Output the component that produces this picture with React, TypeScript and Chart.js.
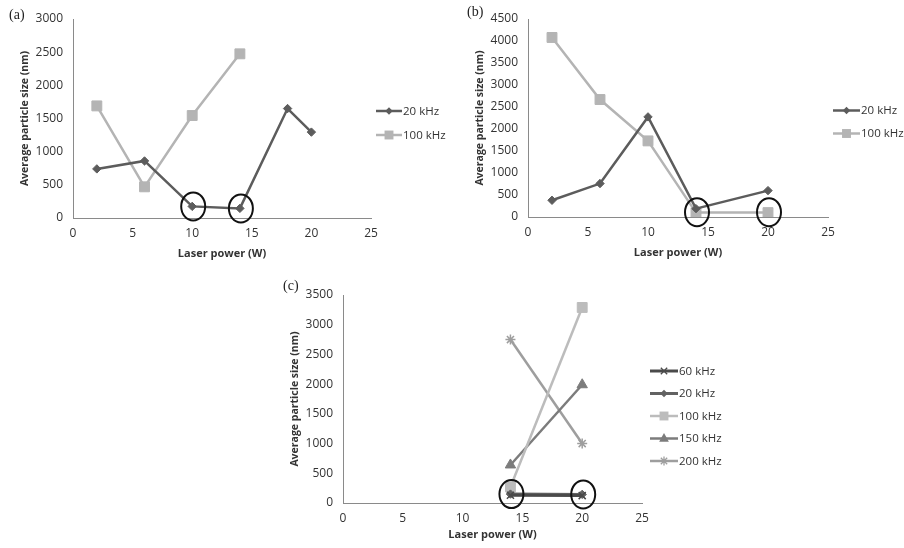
import React, { useEffect, useRef } from "react";
import { Chart, registerables } from "chart.js";

Chart.register(...registerables);

// ---------- data ----------
const powerA20 = [2, 6, 10, 14, 18, 20];
const sizeA20 = [740, 860, 175, 145, 1650, 1295];
const powerA100 = [2, 6, 10, 14];
const sizeA100 = [1690, 470, 1545, 2475];
const circledA = [[10, 175], [14, 145]];

const powerB = [2, 6, 10, 14, 20];
const sizeB20 = [380, 760, 2275, 190, 600];
const sizeB100 = [4080, 2670, 1730, 100, 100];
const circledB = [[14, 110], [20, 110]];

const powerC = [14, 20];
const sizeC60 = [130, 125];
const sizeC20 = [150, 145];
const sizeC100 = [270, 3290];
const sizeC150 = [640, 1990];
const sizeC200 = [2750, 1000];
const circledC = [[14, 150], [20, 145]];

const xTicks = [0, 5, 10, 15, 20, 25];
const xTitle = "Laser power (W)";
const yTitle = "Average particle size (nm)";

const FONT = "'Open Sans', 'Liberation Sans', sans-serif";
const TEXT = "#333333";
const DARK = "#5c5c5c";
const LIGHT = "#b4b4b4";

const pts = (xs: number[], ys: number[]) => xs.map((x, i) => ({ x, y: ys[i] }));

const ds = (label: string, data: any[], color: string, style: string, r: number, w = 2.5) => ({
  label,
  data,
  borderColor: color,
  backgroundColor: color,
  pointBackgroundColor: color,
  pointBorderColor: color,
  pointStyle: style,
  pointRadius: r,
  pointBorderWidth: style === "crossRot" || style === "star" ? 1.5 : 1,
  borderWidth: w,
  tension: 0,
  fill: false,
});

function marker(ctx: CanvasRenderingContext2D, style: string, x: number, y: number, r: number, color: string) {
  ctx.save();
  ctx.fillStyle = color;
  ctx.strokeStyle = color;
  ctx.lineWidth = 1.3;
  ctx.beginPath();
  if (style === "rect") {
    const s = r * Math.SQRT1_2;
    ctx.rect(x - s, y - s, 2 * s, 2 * s);
    ctx.fill();
  } else if (style === "rectRot") {
    ctx.moveTo(x, y - r);
    ctx.lineTo(x + r, y);
    ctx.lineTo(x, y + r);
    ctx.lineTo(x - r, y);
    ctx.closePath();
    ctx.fill();
  } else if (style === "triangle") {
    ctx.moveTo(x, y - r);
    ctx.lineTo(x + r * 0.9, y + r * 0.6);
    ctx.lineTo(x - r * 0.9, y + r * 0.6);
    ctx.closePath();
    ctx.fill();
  } else if (style === "crossRot") {
    const s = r * Math.SQRT1_2;
    ctx.moveTo(x - s, y - s);
    ctx.lineTo(x + s, y + s);
    ctx.moveTo(x + s, y - s);
    ctx.lineTo(x - s, y + s);
    ctx.stroke();
  } else if (style === "star") {
    const s = r * Math.SQRT1_2;
    ctx.moveTo(x - s, y - s);
    ctx.lineTo(x + s, y + s);
    ctx.moveTo(x + s, y - s);
    ctx.lineTo(x - s, y + s);
    ctx.moveTo(x, y - r);
    ctx.lineTo(x, y + r);
    ctx.stroke();
  }
  ctx.restore();
}

const extrasPlugin = {
  id: "extras",
  afterDatasetsDraw(chart: any, _args: any, opts: any) {
    const ctx = chart.ctx;
    const xs = chart.scales.x;
    const ys = chart.scales.y;
    ctx.save();
    (opts.circles || []).forEach((c: number[]) => {
      const px = xs.getPixelForValue(c[0]);
      const py = ys.getPixelForValue(c[1]);
      ctx.beginPath();
      ctx.ellipse(px + 1, py, 12, 14, 0, 0, Math.PI * 2);
      ctx.strokeStyle = "#111";
      ctx.lineWidth = 2;
      ctx.stroke();
    });
    const lg = opts.legend;
    chart.data.datasets.forEach((d: any, i: number) => {
      const y = lg.ys[i];
      ctx.beginPath();
      ctx.moveTo(lg.x0, y);
      ctx.lineTo(lg.x1, y);
      ctx.strokeStyle = d.borderColor;
      ctx.lineWidth = d.borderWidth;
      ctx.stroke();
      marker(ctx, d.pointStyle, (lg.x0 + lg.x1) / 2, y, d.pointRadius * 0.9, d.borderColor);
      ctx.fillStyle = TEXT;
      ctx.font = `11.5px ${FONT}`;
      ctx.textBaseline = "middle";
      ctx.textAlign = "left";
      ctx.fillText(d.label, lg.x1 + 1, y + 0.5);
    });
    ctx.restore();
  },
};

type Panel = {
  datasets: any[];
  ymax: number;
  axisX: number;
  axisTop: number;
  axisRight: number;
  axisBottom: number;
  xHeight: number;
  circles: number[][];
  legend: { x0: number; x1: number; ys: number[] };
};

const W = 904;
const H = 548;

function makeConfig(p: Panel): any {
  const yW = 60;
  return {
    type: "line",
    data: { datasets: p.datasets },
    plugins: [extrasPlugin],
    options: {
      responsive: false,
      animation: false,
      events: [],
      layout: {
        padding: {
          left: p.axisX - yW,
          top: p.axisTop,
          right: W - p.axisRight,
          bottom: H - p.axisBottom - p.xHeight,
        },
      },
      plugins: {
        legend: { display: false },
        tooltip: { enabled: false },
        extras: { circles: p.circles, legend: p.legend },
      },
      scales: {
        x: {
          type: "linear",
          min: 0,
          max: 25,
          afterBuildTicks: (s: any) => {
            s.ticks = xTicks.map((v) => ({ value: v }));
          },
          afterFit: (s: any) => {
            s.height = p.xHeight;
          },
          grid: { display: false, drawTicks: false },
          border: { display: true, color: "#8a8a8a", width: 1 },
          ticks: { padding: 8, color: TEXT, font: { family: FONT, size: 12 }, callback: (v: any) => String(v) },
          title: {
            display: true,
            text: xTitle,
            color: TEXT,
            padding: { top: 0, bottom: 0 },
            font: { family: FONT, size: 11, weight: "bold" },
          },
        },
        y: {
          type: "linear",
          min: 0,
          max: p.ymax,
          afterFit: (s: any) => {
            s.width = yW;
          },
          grid: { display: false, drawTicks: false },
          border: { display: true, color: "#8a8a8a", width: 1 },
          ticks: { stepSize: 500, padding: 10, color: TEXT, font: { family: FONT, size: 12 }, callback: (v: any) => String(v) },
          title: {
            display: true,
            text: yTitle,
            color: TEXT,
            padding: { top: 6, bottom: 0 },
            font: { family: FONT, size: 10.5, weight: "bold" },
          },
        },
      },
    },
  };
}

const panels: Panel[] = [
  {
    datasets: [
      ds("20 kHz", pts(powerA20, sizeA20), DARK, "rectRot", 4.2),
      ds("100 kHz", pts(powerA100, sizeA100), LIGHT, "rect", 7),
    ],
    ymax: 3000,
    axisX: 73,
    axisTop: 19,
    axisRight: 371,
    axisBottom: 218,
    xHeight: 42,
    circles: circledA,
    legend: { x0: 376, x1: 402, ys: [111, 135] },
  },
  {
    datasets: [
      ds("20 kHz", pts(powerB, sizeB20), DARK, "rectRot", 4.2),
      ds("100 kHz", pts(powerB, sizeB100), LIGHT, "rect", 7),
    ],
    ymax: 4500,
    axisX: 528,
    axisTop: 19,
    axisRight: 828,
    axisBottom: 217,
    xHeight: 42,
    circles: circledB,
    legend: { x0: 833, x1: 860, ys: [110.5, 133.5] },
  },
  {
    datasets: [
      ds("60 kHz", pts(powerC, sizeC60), "#4a4a4a", "crossRot", 5, 3),
      ds("20 kHz", pts(powerC, sizeC20), "#626262", "rectRot", 4.2, 3),
      ds("100 kHz", pts(powerC, sizeC100), "#bcbcbc", "rect", 7),
      ds("150 kHz", pts(powerC, sizeC150), "#7c7c7c", "triangle", 6),
      ds("200 kHz", pts(powerC, sizeC200), "#9e9e9e", "star", 5),
    ],
    ymax: 3500,
    axisX: 343,
    axisTop: 295,
    axisRight: 642,
    axisBottom: 503,
    xHeight: 38,
    circles: circledC,
    legend: { x0: 650, x1: 678, ys: [371, 393.5, 416, 438.5, 461] },
  },
];

function ChartCanvas({ panel }: { panel: Panel }) {
  const ref = useRef<HTMLCanvasElement | null>(null);
  useEffect(() => {
    if (!ref.current) return;
    const chart = new Chart(ref.current, makeConfig(panel));
    return () => chart.destroy();
  }, [panel]);
  return (
    <canvas
      ref={ref}
      width={W}
      height={H}
      style={{ position: "absolute", left: 0, top: 0, width: W, height: H }}
    />
  );
}

const labelStyle = (x: number, y: number): React.CSSProperties => ({
  position: "absolute",
  left: x,
  top: y,
  fontFamily: "'Liberation Serif', 'DejaVu Serif', serif",
  fontSize: 14,
  lineHeight: "16px",
  color: "#222",
});

export default function App() {
  return (
    <div style={{ position: "absolute", left: 0, top: 0, width: W, height: H, background: "#fff", overflow: "hidden" }}>
      {panels.map((p, i) => (
        <ChartCanvas key={i} panel={p} />
      ))}
      <div style={labelStyle(9, 7)}>(a)</div>
      <div style={labelStyle(467, 4)}>(b)</div>
      <div style={labelStyle(283, 278)}>(c)</div>
    </div>
  );
}
